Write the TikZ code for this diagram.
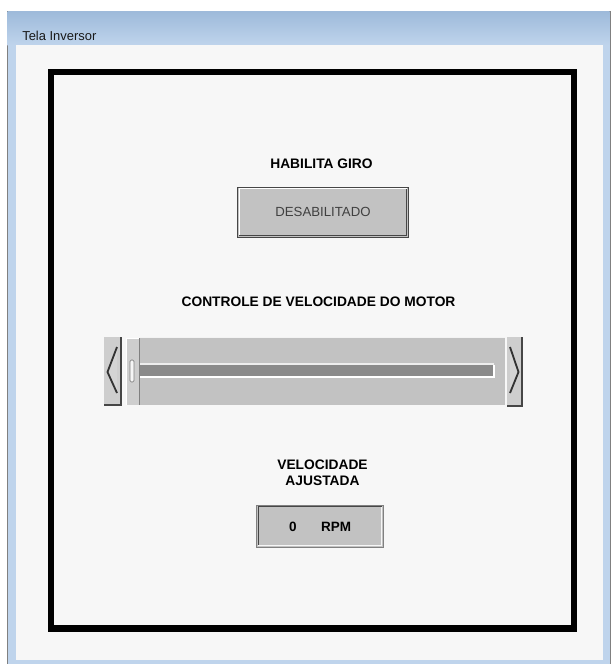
\documentclass[tikz,border=0pt]{standalone}
\usepackage{fontspec}
\setmainfont{Liberation Sans}
\definecolor{janela}{RGB}{191,212,236}
\definecolor{barra}{RGB}{158,186,218}
\definecolor{fundo}{RGB}{247,247,247}
\definecolor{cinza}{RGB}{194,194,194}
\definecolor{claro}{RGB}{206,206,206}
\definecolor{sulco}{RGB}{138,138,138}
\definecolor{borda}{RGB}{70,70,70}
\begin{document}
\begin{tikzpicture}[x = .025cm, y = -.025cm,
		rotulo/.style = {font = \fontsize{9.8}{11.5}\selectfont\bfseries, text = black, inner sep = 0pt, align = center},
		botao/.style = {fill = cinza, draw = borda, line width = .7pt, inner sep = 0pt},
		seta/.style = {fill = cinza!70!white, draw = black!80, line width = 1.3pt, line join = round}]
	\useasboundingbox (0,0) rectangle (611,664);
	\fill[white] (0,0) rectangle (611,664);
	\draw[fill = janela, draw = gray] (7,11) rectangle (610,664);
	\shade[top color = barra, bottom color = janela] (7.5,11.5) rectangle (609.5,45);
	\fill[fundo] (16,45) rectangle (603,660);
	\node[anchor = west, inner sep = 0pt, font = \fontsize{9.2}{10}\selectfont, text = black!90] (titulo) at (22,36) {Tela Inversor};
	\draw[line width = 4.4pt] (51,72) rectangle (574,628.5);
	\node[rotulo] (habilita) at (321.5,164) {HABILITA GIRO};
	\node[botao, minimum width = 4.25cm, minimum height = 1.25cm, font = \fontsize{9.4}{10}\selectfont, text = black!75] (estado) at (323,212) {DESABILITADO};
	\draw[white, line width = 1.2pt] ([shift = {(2,-2)}]estado.south west) |- ([shift = {(-2,2)}]estado.north east);
	\draw[borda, line width = 1.2pt] ([shift = {(2,-2)}]estado.south west) -| ([shift = {(-2,2)}]estado.north east);
	\node[rotulo] (controle) at (318.5,302) {CONTROLE DE VELOCIDADE DO MOTOR};
	\fill[cinza] (140,337) rectangle (505,405);
	\draw[white!80!cinza, line width = .7pt] (140,337.5) -- (505,337.5);
	\fill[sulco] (140,365) rectangle (493,376);
	\draw[white, line width = .8pt] (140,377) -- (494,377) -- (494,364.5);
	\draw[white!70!cinza, line width = .8pt] (140,364) -- (494,364);
	\fill[claro] (126,338) rectangle (140,405);
	\draw[white, line width = .8pt] (126.5,405) -- (126.5,338.5) -- (139,338.5);
	\draw[gray, line width = .8pt] (139.5,338) -- (139.5,405);
	\draw[fill = white!85!cinza, draw = gray, line width = .5pt, rounded corners = 1pt] (130,360) rectangle (134,382);
	\fill[claro] (104,337) rectangle (122,405);
	\draw[borda, line width = 1.1pt] (121,337) -- (121,405) -- (104,405);
	\draw[seta] (117,347) -- (107.5,372) -- (117,393);
	\fill[claro] (507,337) rectangle (523,406);
	\draw[borda, line width = 1.1pt] (522,337) -- (522,406) -- (507,406);
	\draw[seta] (510,347) -- (518.5,372) -- (510,393);
	\node[rotulo] (velocidade) at (322.5,473) {VELOCIDADE\\AJUSTADA};
	\node[botao, minimum width = 3.15cm, minimum height = 1.05cm, draw = gray] (rpm) at (320,526) {};
	\draw[borda, line width = 1.4pt] ([shift = {(2,-2)}]rpm.south west) |- ([shift = {(-2,2)}]rpm.north east);
	\draw[white!85!cinza, line width = 1.2pt] ([shift = {(2,-2)}]rpm.south west) -| ([shift = {(-2,2)}]rpm.north east);
	\node[rotulo, font = \fontsize{9.6}{10}\selectfont\bfseries] (valor) at (293,526.5) {0};
	\node[rotulo, font = \fontsize{9.6}{10}\selectfont\bfseries] (unidade) at (336,526.5) {RPM};
\end{tikzpicture}
\end{document}
